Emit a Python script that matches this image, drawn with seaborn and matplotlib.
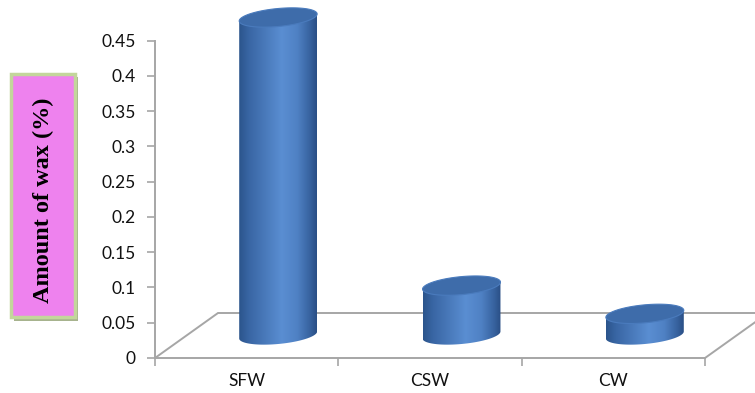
import numpy as np
import pandas as pd
import matplotlib
matplotlib.use("Agg")
import matplotlib.pyplot as plt
import seaborn as sns
from matplotlib.path import Path
from matplotlib.patches import PathPatch, Rectangle
from matplotlib.colors import LinearSegmentedColormap

# ---- data ----
categories = ["SFW", "CSW", "CW"]
wax_amount = [0.45, 0.07, 0.03]
y_ticks = [0, 0.05, 0.1, 0.15, 0.2, 0.25, 0.3, 0.35, 0.4, 0.45]
y_tick_labels = ["0", "0.05", "0.1", "0.15", "0.2", "0.25", "0.3", "0.35", "0.4", "0.45"]
y_label = "Amount of wax (%)"

sns.set_theme(style="white")
plt.rcParams['font.family'] = ['Lato', 'DejaVu Sans']

W, H = 755, 393
fig = plt.figure(figsize=(W / 100, H / 100), dpi=100)
fig.patch.set_facecolor("white")

ax_l, ax_r, ax_t, ax_b = 155, 705, 40.5, 358
ax = fig.add_axes([ax_l / W, 1 - ax_b / H, (ax_r - ax_l) / W, (ax_b - ax_t) / H])
ax.set_facecolor("none")

df = pd.DataFrame({"sample": categories, "wax": wax_amount})
sns.barplot(data=df, x="sample", y="wax", ax=ax, width=0.425,
            color="#4F81BD", errorbar=None)

ax.set_xlim(-0.5, 2.5)
ax.set_ylim(0, 0.45)

px_per_cat = (ax_r - ax_l) / 3
px_per_y = (ax_b - ax_t) / 0.45

# 3D offsets (pixel -> data)
dx = 31.5 / px_per_cat
dy = 23 / px_per_y
eh = 18 / px_per_y          # ellipse height
tilt = 3.5 / px_per_y       # ellipse tilt
floor_dx = 63 / px_per_cat
floor_dy = 45 / px_per_y

# floor
ax.plot([-0.5, -0.5 + floor_dx, 2.5 + floor_dx + 1, 2.5 + floor_dx, 2.5],
        [0, floor_dy, floor_dy, floor_dy, 0], color="#A6A6A6", lw=1.4,
        clip_on=False, zorder=1, solid_joinstyle="miter")

cyl_cmap = LinearSegmentedColormap.from_list(
    "cyl", [(0.0, "#2B548B"), (0.12, "#3865A3"), (0.55, "#5A8ED2"),
            (0.75, "#4F81C4"), (0.92, "#36619D"), (1.0, "#2A4F85")])
grad = np.linspace(0, 1, 256)[np.newaxis, :]

for p in list(ax.patches):
    x0 = p.get_x() + dx
    w = p.get_width()
    h = p.get_height()
    p.set_visible(False)
    cx = x0 + w / 2
    # body outline: left side, lower half ellipse, right side
    t = np.linspace(np.pi, 2 * np.pi, 60)
    bx = cx + w / 2 * np.cos(t)
    by = dy + eh / 2 * np.sin(t) + tilt * np.cos(t)
    verts = [(x0, dy + h - tilt)] + list(zip(bx, by)) + [(x0 + w, dy + h + tilt), (x0, dy + h - tilt)]
    codes = [Path.MOVETO] + [Path.LINETO] * (len(verts) - 2) + [Path.CLOSEPOLY]
    body = PathPatch(Path(verts, codes), transform=ax.transData,
                     facecolor="none", edgecolor="none")
    im = ax.imshow(grad, extent=[x0, x0 + w, dy - eh, dy + h + eh],
                   cmap=cyl_cmap, aspect="auto", zorder=3,
                   interpolation="bicubic")
    im.set_clip_path(body)
    im.set_clip_box(fig.bbox)
    # top face
    tt = np.linspace(0, 2 * np.pi, 120)
    tx = cx + w / 2 * np.cos(tt)
    ty = dy + h + eh / 2 * np.sin(tt) + tilt * np.cos(tt)
    ax.fill(tx, ty, facecolor="#3E6CAA", edgecolor="#4A7BBD", lw=0.8, zorder=4,
            clip_on=False)

ax.set_xlim(-0.5, 2.5)
ax.set_ylim(0, 0.45)

# spines & ticks
for s in ["top", "right"]:
    ax.spines[s].set_visible(False)
for s in ["left", "bottom"]:
    ax.spines[s].set_color("#A6A6A6")
    ax.spines[s].set_linewidth(1.4)

ax.set_yticks(y_ticks)
ax.set_yticklabels(y_tick_labels)
ax.tick_params(axis="y", direction="out", length=6, width=1.2, color="#A6A6A6",
               pad=8, labelsize=12.5, labelcolor="#111111", left=True)
ax.set_xticks(range(len(categories)))
ax.set_xticklabels(categories)
ax.set_xticks([-0.5, 0.5, 1.5, 2.5], minor=True)
ax.tick_params(axis="x", which="major", length=0, pad=11, labelsize=12.5,
               labelcolor="#111111")
ax.tick_params(axis="x", which="minor", direction="out", length=6, width=1.2,
               color="#A6A6A6", bottom=True)
ax.set_xlabel("")
ax.set_ylabel("")

# y label box with shadow
def fig_rect(x0, y0, x1, y1, **kw):
    r = Rectangle((x0 / W, 1 - y1 / H), (x1 - x0) / W, (y1 - y0) / H,
                  transform=fig.transFigure, **kw)
    fig.patches.append(r)

fig_rect(14, 77, 78, 321, facecolor="#A7B38E", edgecolor="none", zorder=1)
fig_rect(11, 74, 75, 317, facecolor="#EE82EE", edgecolor="#C3D69B", lw=2.5, zorder=2)
fig.text(43 / W, 1 - 200 / H, y_label, rotation=90, ha="center", va="center",
         fontsize=17.5, fontweight="bold", family=["Liberation Serif", "DejaVu Serif"],
         color="black", zorder=3)

fig.savefig("out.png", dpi=100)
